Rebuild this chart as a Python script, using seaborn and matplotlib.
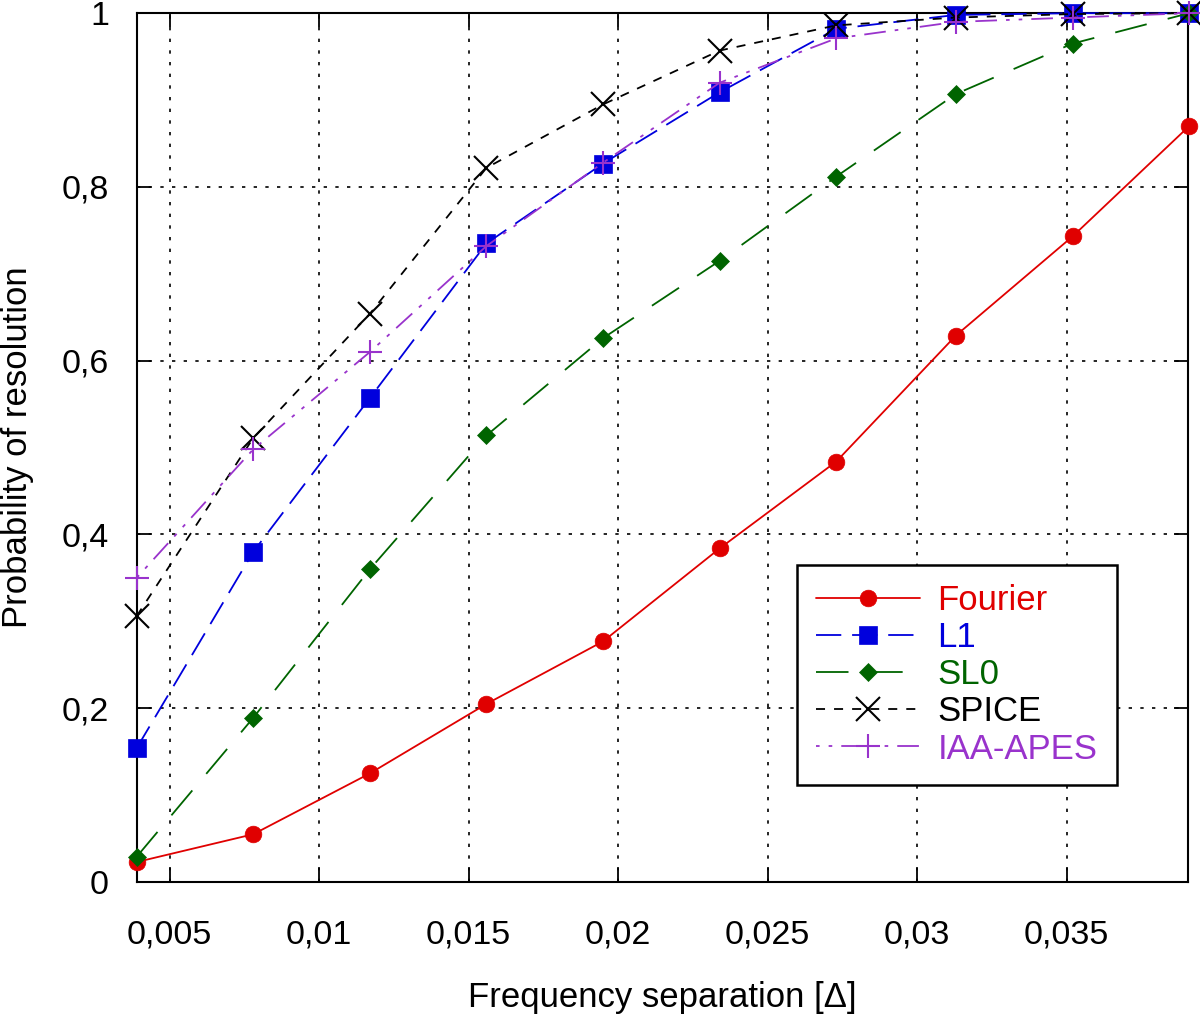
import matplotlib
matplotlib.use("Agg")
import matplotlib.pyplot as plt
import seaborn as sns
import numpy as np
from matplotlib.ticker import FuncFormatter, FixedLocator

sns.set_theme(style="white")
plt.rcParams['font.family'] = ['Liberation Sans', 'DejaVu Sans']
plt.rcParams['text.color'] = 'black'
plt.rcParams['axes.labelcolor'] = 'black'

freq = [0.0039, 0.0078, 0.0117, 0.0156, 0.0195, 0.0234, 0.0273, 0.0313, 0.0352, 0.0391]
fourier = [0.023, 0.055, 0.125, 0.205, 0.277, 0.384, 0.484, 0.629, 0.743, 0.870]
l1 = [0.154, 0.380, 0.557, 0.735, 0.827, 0.909, 0.982, 0.998, 1.0, 1.0]
sl0 = [0.029, 0.189, 0.360, 0.514, 0.626, 0.715, 0.812, 0.907, 0.965, 1.0]
spice = [0.306, 0.511, 0.654, 0.822, 0.895, 0.957, 0.986, 0.995, 0.999, 1.0]
iaa = [0.350, 0.498, 0.610, 0.732, 0.828, 0.920, 0.971, 0.990, 0.995, 1.0]

xticks = [0.005, 0.01, 0.015, 0.02, 0.025, 0.03, 0.035]
yticks = [0, 0.2, 0.4, 0.6, 0.8, 1.0]

series = [
    ("Fourier", fourier, "#e00000", "o", 12, "-", 1.3),
    ("L1", l1, "#0000dd", "s", 13, (0, (14, 6)), 1.3),
    ("SL0", sl0, "#006400", "D", 9.5, (0, (18, 12)), 1.3),
    ("SPICE", spice, "#000000", "x", 17, (0, (5, 5)), 1.3),
    ("IAA-APES", iaa, "#9933cc", "+", 17, (0, (2, 5, 2, 5, 12, 5)), 1.3),
]

fig = plt.figure(figsize=(12, 10.15), dpi=100)
ax = fig.add_axes([0.114, 0.131, 0.876, 0.856])

for name, vals, col, mk, ms, ls, lw in series:
    sns.lineplot(x=freq, y=vals, ax=ax, color=col, marker=mk, markersize=ms,
                 linestyle=ls, linewidth=lw, label=name,
                 markeredgecolor=col, markerfacecolor=col,
                 markeredgewidth=1.5 if mk in ("x", "+") else 0.5,
                 errorbar=None, clip_on=False, zorder=3)

ax.set_xlim(0.00390625, 0.0390625)
ax.set_ylim(0, 1)
ax.xaxis.set_major_locator(FixedLocator(xticks))
ax.yaxis.set_major_locator(FixedLocator(yticks))

def fmt(v, pos):
    s = ("%.3f" % v).rstrip('0').rstrip('.')
    return s.replace('.', ',')
ax.xaxis.set_major_formatter(FuncFormatter(fmt))
ax.yaxis.set_major_formatter(FuncFormatter(fmt))

ax.grid(True, color='black', linestyle=(0, (2, 5)), linewidth=1.2)
for sp in ax.spines.values():
    sp.set_color('black')
    sp.set_linewidth(1.5)
    sp.set_visible(True)
ax.tick_params(axis='both', which='major', direction='in', length=10, width=1.3,
               top=True, right=True, bottom=True, left=True, labelsize=24.5,
               colors='black', labelcolor='black')
ax.tick_params(axis='x', pad=27)
ax.tick_params(axis='y', pad=20)
ax.set_xlabel("Frequency separation [Δ]", fontsize=25, labelpad=22, color='black')
ax.set_ylabel("Probability of resolution", fontsize=25, labelpad=20, color='black')

leg = ax.legend(loc='lower right', bbox_to_anchor=(0.932, 0.112), fontsize=25,
                frameon=True, fancybox=False, shadow=False, handlelength=3.0,
                borderpad=0.55, labelspacing=0.12, handletextpad=0.5, borderaxespad=0)
leg.get_frame().set_edgecolor('black')
leg.get_frame().set_linewidth(1.8)
leg.get_frame().set_alpha(1)
for txt, s in zip(leg.get_texts(), series):
    txt.set_color(s[2])

fig.savefig("out.png", dpi=100, facecolor='white')
